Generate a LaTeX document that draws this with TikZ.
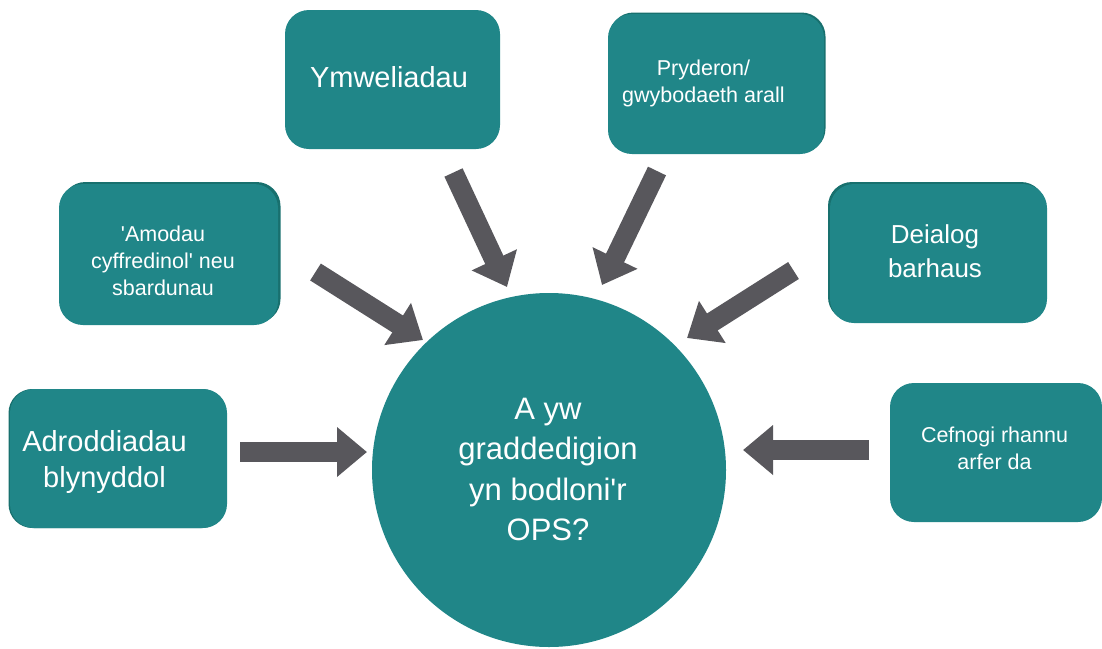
\documentclass[tikz,border=0pt]{standalone}
\usepackage{fontspec}
\setmainfont{Liberation Sans}
\newfontfamily\plainsans{Liberation Sans}
\usetikzlibrary{arrows.meta,shadows}
\definecolor{tealbox}{RGB}{32,134,136}
\definecolor{tealshade}{RGB}{24,112,110}
\definecolor{arrowgray}{RGB}{88,87,92}
\tikzset{
  infobox/.style={fill=tealbox, draw=none, rounded corners=24pt, inner sep=0pt, outer sep=0pt},
  boxtext/.style={text=white, align=center, inner sep=0pt, outer sep=0pt},
  bigarrow/.style={draw=arrowgray, line width=20pt, -{Triangle[length=30pt,width=48pt]}},
  hub/.style={circle, fill=tealbox, draw=none, inner sep=0pt, outer sep=0pt, minimum size=354pt}
}
\begin{document}
\begin{tikzpicture}[x=1pt,y=-1pt]
\useasboundingbox (0,0) rectangle (1102,648);
% boxes
\node[infobox, minimum width=219pt, minimum height=141pt,
  general shadow={fill=tealshade, shadow xshift=2.5pt, shadow yshift=2pt}] (b1) at (168.5,254.5) {};
\node[infobox, minimum width=215pt, minimum height=139pt] (b2) at (392.5,79.5) {};
\node[infobox, minimum width=216pt, minimum height=140pt,
  general shadow={fill=tealshade, shadow xshift=1.5pt, shadow yshift=1.5pt}] (b3) at (716,84) {};
\node[infobox, minimum width=217pt, minimum height=139pt,
  general shadow={fill=tealshade, shadow xshift=-2pt, shadow yshift=2pt}] (b4) at (938.5,253.5) {};
\node[infobox, minimum width=217pt, minimum height=139pt,
  general shadow={fill=tealshade, shadow xshift=-1.5pt, shadow yshift=0pt}] (b5) at (118.5,458.5) {};
\node[infobox, minimum width=212pt, minimum height=139pt] (b6) at (996,452.5) {};
% hub
\node[hub] (c) at (549,470) {};
% texts
\node[boxtext, font=\plainsans\fontsize{21.5}{27}\selectfont] (t1) at (163,261) {'Amodau\\cyffredinol' neu\\sbardunau};
\node[boxtext, font=\plainsans\fontsize{29}{36}\selectfont] (t2) at (389,77) {Ymweliadau};
\node[boxtext, font=\plainsans\fontsize{21.5}{27}\selectfont] (t3) at (703.5,83) {Pryderon/\\gwybodaeth arall};
\node[boxtext, font=\plainsans\fontsize{26}{34}\selectfont] (t4) at (935,251.5) {Deialog\\barhaus};
\node[boxtext, font=\plainsans\fontsize{29}{36}\selectfont] (t5) at (104.5,461.5) {Adroddiadau\\blynyddol};
\node[boxtext, font=\plainsans\fontsize{21.5}{27}\selectfont] (t6) at (994.5,448.5) {Cefnogi rhannu\\arfer da};
\node[boxtext, font=\plainsans\fontsize{31}{40.3}\selectfont] (t7) at (548,469.5) {A yw\\graddedigion\\yn bodloni'r\\OPS?};
% arrow end points
\coordinate (a1s) at (453.5,172.5); \coordinate (a1e) at (507,287);
\coordinate (a2s) at (657,171);     \coordinate (a2e) at (602,285);
\coordinate (a3s) at (315.5,272);   \coordinate (a3e) at (423,340);
\coordinate (a4s) at (793.5,270.5); \coordinate (a4e) at (687,338);
\coordinate (a5s) at (240,452);     \coordinate (a5e) at (367,452);
\coordinate (a6s) at (869,450);     \coordinate (a6e) at (743,450);
\draw[bigarrow] (a1s) -- (a1e);
\draw[bigarrow] (a2s) -- (a2e);
\draw[bigarrow] (a3s) -- (a3e);
\draw[bigarrow] (a4s) -- (a4e);
\draw[bigarrow] (a5s) -- (a5e);
\draw[bigarrow] (a6s) -- (a6e);
\end{tikzpicture}
\end{document}
